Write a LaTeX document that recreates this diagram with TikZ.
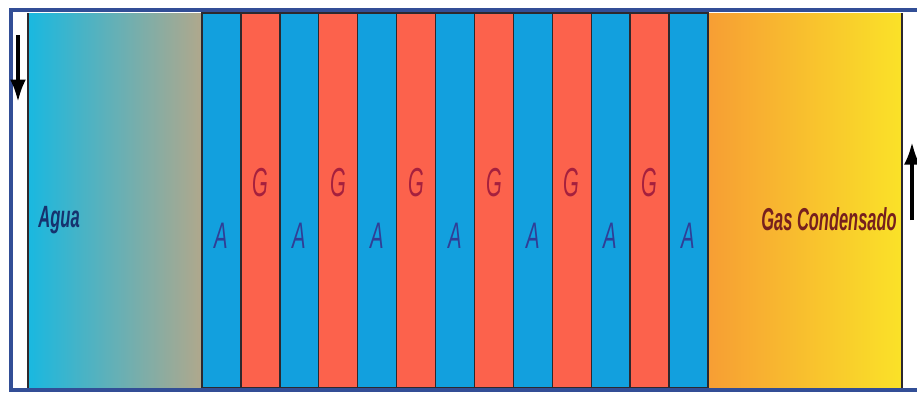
\documentclass[tikz,border=0pt]{standalone}
\usepackage{fontspec}
\setmainfont{Liberation Sans}
\usepackage{xcolor}
\usepackage{tikz}
\usetikzlibrary{arrows.meta}

\definecolor{marco}{RGB}{50,78,150}
\definecolor{linea}{RGB}{45,40,45}
\definecolor{azul}{RGB}{18,160,222}
\definecolor{rojo}{RGB}{252,98,76}
\definecolor{aguaizq}{RGB}{25,184,224}
\definecolor{aguamed}{RGB}{70,176,205}
\definecolor{aguader}{RGB}{176,168,140}
\definecolor{gasizq}{RGB}{247,158,52}
\definecolor{gasder}{RGB}{250,226,40}
\definecolor{txtagua}{RGB}{22,50,110}
\definecolor{txtA}{RGB}{48,62,150}
\definecolor{txtG}{RGB}{165,32,62}
\definecolor{txtgas}{RGB}{118,32,30}

\newcommand{\estrecho}[2][0.5]{\scalebox{#1}[1]{#2}}

\tikzset{
    tira/.style={draw=linea, line width=0.8pt},
    letra/.style={inner sep=0pt, font=\fontsize{21}{21}\selectfont\itshape},
    rotulo/.style={inner sep=0pt, font=\fontsize{18}{18}\selectfont\bfseries\itshape},
    flecha/.style={line width=2.2pt, -{Latex[length=4.5mm,width=3.2mm]}},
}

\begin{document}
\begin{tikzpicture}
    \useasboundingbox (0,0) rectangle (18.34,7.84);
    \fill[white] (0,0) rectangle (18.34,7.84);

    % Agua
    \shade[left color=aguaizq, middle color=aguamed, right color=aguader] (0.56,0.08) rectangle (4.04,7.58);
    \draw[tira] (0.56,0.08) -- (0.56,7.58);
    \node[rotulo, text=txtagua, anchor=base west, font=\fontsize{17.5}{18}\selectfont\bfseries\itshape] (agua) at (0.76,3.3) {\estrecho[0.54]{Agua}};

    % Tiras A
    \foreach \k in {0,2,...,12} {
        \filldraw[tira, fill=azul] ({4.04+0.7785*\k},0.08) rectangle ++(0.7785,7.5);
        \node[letra, text=txtA] (a\k) at ({4.04+0.7785*(\k+0.5)},3.12) {\estrecho[0.55]{A}};
    }

    % Tiras G
    \foreach \k in {1,3,...,11} {
        \filldraw[tira, fill=rojo] ({4.04+0.7785*\k},0.08) rectangle ++(0.7785,7.5);
        \node[letra, text=txtG, font=\fontsize{23}{23}\selectfont\itshape] (g\k) at ({4.04+0.7785*(\k+0.5)},4.18) {\estrecho{G}};
    }

    % Gas condensado
    \shade[left color=gasizq, right color=gasder] (14.16,0.08) rectangle (18.04,7.58);
    \draw[tira] (14.16,0.08) -- (14.16,7.58);
    \draw[tira] (18.04,0.08) -- (18.04,7.58);
    \node[rotulo, text=txtgas, anchor=base east] (gas) at (17.94,3.24) {\estrecho[0.52]{Gas Condensado}};

    % Marco
    \draw[marco, line width=1.8pt] (18.40,7.64) -- (0.22,7.64) -- (0.22,0.04) -- (18.40,0.04);

    % Flechas
    \draw[flecha] (0.36,7.14) -- (0.36,5.8);
    \draw[flecha] (18.24,3.44) -- (18.24,5.0);
\end{tikzpicture}
\end{document}
